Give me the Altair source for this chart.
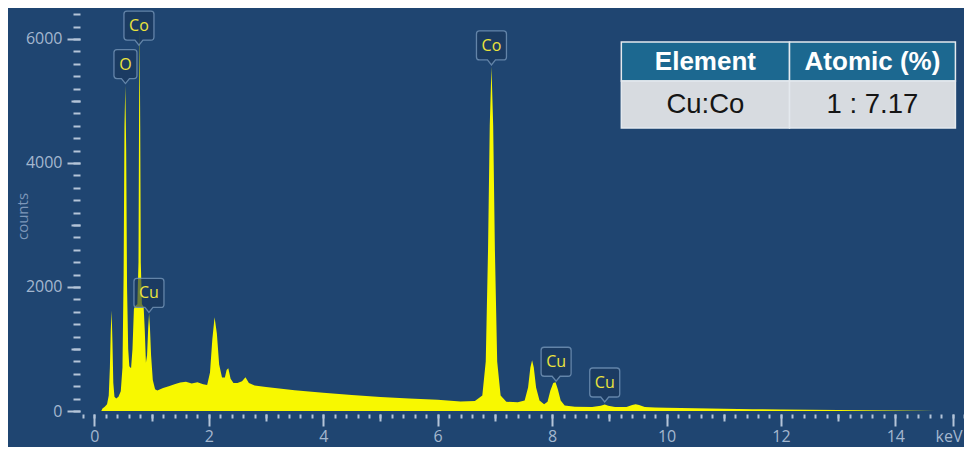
import altair as alt
import pandas as pd

# ---------------- data ----------------
energy_kev = [0.12, 0.14, 0.18, 0.22, 0.25, 0.27, 0.285, 0.30, 0.315, 0.33, 0.35, 0.38, 0.42, 0.46,
              0.49, 0.51, 0.525, 0.54, 0.555, 0.57, 0.59, 0.61, 0.64, 0.665, 0.69, 0.72, 0.75, 0.77,
              0.78, 0.79, 0.80, 0.81, 0.83, 0.86, 0.88, 0.90, 0.92, 0.94, 0.955, 0.97, 0.99, 1.02,
              1.06, 1.10, 1.2, 1.3, 1.4, 1.5, 1.6, 1.7, 1.8, 1.9, 1.97, 2.02, 2.06, 2.10, 2.14, 2.18,
              2.23, 2.28, 2.31, 2.34, 2.38, 2.43, 2.5, 2.58, 2.64, 2.7, 2.8, 3.0, 3.5, 4.0, 4.5, 5.0,
              5.5, 6.0, 6.4, 6.65, 6.78, 6.84, 6.88, 6.91, 6.94, 6.97, 7.0, 7.04, 7.1, 7.2, 7.4, 7.52,
              7.58, 7.62, 7.65, 7.68, 7.72, 7.78, 7.86, 7.92, 7.97, 8.02, 8.06, 8.10, 8.15, 8.22, 8.4,
              8.7, 8.85, 8.92, 8.98, 9.1, 9.3, 9.4, 9.46, 9.52, 9.62, 9.8, 10.0, 10.5, 11.0, 11.5,
              12.0, 12.5, 13.0, 13.5, 14.0, 14.4, 14.7]
counts = [0, 40, 70, 110, 250, 700, 1300, 1620, 1100, 450, 230, 200, 230, 320,
          700, 2200, 4600, 5250, 4200, 2000, 1000, 720, 690, 1000, 1650, 1700, 1720, 2400,
          4800, 6150, 4600, 2400, 1720, 1680, 1300, 780, 900, 1350, 1570, 1350, 900, 500,
          350, 330, 370, 400, 430, 460, 470, 445, 465, 430, 420, 620, 1150, 1510, 1250, 750,
          540, 540, 660, 690, 520, 450, 450, 480, 545, 450, 410, 385, 335, 295, 260, 225,
          200, 180, 155, 160, 250, 800, 2600, 4600, 5550, 4600, 2600, 800, 250, 150, 140, 170,
          380, 700, 820, 700, 380, 170, 110, 150, 330, 450, 465, 350, 170, 90, 70,
          65, 85, 105, 85, 65, 65, 95, 110, 95, 65, 55, 52, 45, 38, 30,
          25, 20, 16, 12, 8, 5, 0]
assert len(energy_kev) == len(counts)

peak_labels = ["O", "Co", "Cu", "Co", "Cu", "Cu"]
label_kev = [0.542, 0.778, 0.953, 6.94, 8.07, 8.92]
label_counts = [5280, 5900, 1590, 5580, 480, 145]

x_major_ticks = [0, 2, 4, 6, 8, 10, 12, 14]
x_unit_tick = [15]
x_mid_ticks = [1, 3, 5, 7, 9, 11, 13]
y_major_ticks = [0, 2000, 4000, 6000]
y_mid_ticks = [1000, 3000, 5000]

table_header = ["Element", "Atomic (%)"]
table_row = ["Cu:Co", "1 : 7.17"]

# ---------------- layout / style constants ----------------
X_DOMAIN = [-0.2, 15.2]
Y_DOMAIN = [0, 6450]
TABLE_X_EDGES = [9.21, 12.15, 15.05]      # in keV (table drawn through the scales)
TABLE_Y_EDGES = [5952, 5323, 4565]        # in counts

BG = "#1f4571"
TICK = "#b4c4d8"
LABEL = "#a4b7cf"
YELLOW = "#f8f800"
FONT = "Open Sans"

x_minor_ticks = [round(-0.2 + 0.2 * i, 1) for i in range(78)]
y_minor_ticks = list(range(0, 6401, 200))

spec_df = pd.DataFrame({"kev": energy_kev, "cnt": counts})
lab_df = pd.DataFrame({"kev": label_kev, "cnt": label_counts, "label": peak_labels})
dummy = pd.DataFrame({"kev": [0.0], "cnt": [0.0]})


def xs():
    return alt.Scale(domain=X_DOMAIN, nice=False, zero=False)


def ys():
    return alt.Scale(domain=Y_DOMAIN, nice=False, zero=False)


def tick_axis_x(values, size, labels=False, **extra):
    kw = dict(orient="bottom", values=values, tickSize=size, tickWidth=2, tickColor=TICK,
              domain=False, grid=False, offset=3, labels=labels, title=None)
    if labels:
        kw.update(labelColor=LABEL, labelFont=FONT, labelFontSize=16, labelPadding=2,
                  format="d", labelFlush=False, labelOverlap=False, labelBound=False)
    kw.update(extra)
    return alt.Axis(**kw)


def tick_axis_y(values, size, labels=False):
    kw = dict(orient="left", values=values, tickSize=size, tickWidth=2, tickColor=TICK,
              domain=False, grid=False, offset=3, labels=labels)
    if labels:
        kw.update(labelColor=LABEL, labelFont=FONT, labelFontSize=16, labelPadding=5,
                  format="d", labelFlush=False, title="counts", titleColor="#7d97b9",
                  titleFont=FONT, titleFontSize=15, titleFontWeight="normal",
                  titleX=-58, titleY=205, titleAlign="center", titleBaseline="middle")
    else:
        kw.update(title=None)
    return alt.Axis(**kw)


spectrum = alt.Chart(spec_df).mark_area(color=YELLOW, interpolate="linear").encode(
    x=alt.X("kev:Q", scale=xs(), axis=tick_axis_x(x_major_ticks, 12, labels=True)),
    y=alt.Y("cnt:Q", scale=ys(), axis=tick_axis_y(y_major_ticks, 13, labels=True)),
)

minor = alt.Chart(dummy).mark_point(opacity=0).encode(
    x=alt.X("kev:Q", scale=xs(), axis=tick_axis_x(x_minor_ticks, 4)),
    y=alt.Y("cnt:Q", scale=ys(), axis=tick_axis_y(y_minor_ticks, 7)),
)
mid = alt.Chart(dummy).mark_point(opacity=0).encode(
    x=alt.X("kev:Q", scale=xs(), axis=tick_axis_x(x_mid_ticks, 7)),
    y=alt.Y("cnt:Q", scale=ys(), axis=tick_axis_y(y_mid_ticks, 9)),
)
unit = alt.Chart(dummy).mark_point(opacity=0).encode(
    x=alt.X("kev:Q", scale=xs(),
            axis=tick_axis_x(x_unit_tick, 12, labels=True, labelOffset=-4,
                             labelExpr="'keV'")),
)


def callout(w, h=29, tip=5, r=3):
    hw = w / 2
    top = -(tip + h)
    bot = -tip
    return (f"M{-hw + r},{top} L{hw - r},{top} Q{hw},{top} {hw},{top + r} "
            f"L{hw},{bot - r} Q{hw},{bot} {hw - r},{bot} L4,{bot} L0,0 L-4,{bot} "
            f"L{-hw + r},{bot} Q{-hw},{bot} {-hw},{bot - r} L{-hw},{top + r} "
            f"Q{-hw},{top} {-hw + r},{top} Z")


def box_layer(df, w):
    return alt.Chart(df).mark_point(
        shape=callout(w), size=4, filled=True, fill="#1a3658", fillOpacity=0.62,
        stroke="#7090b4", strokeWidth=1.3, strokeOpacity=0.85, opacity=1,
    ).encode(
        x=alt.X("kev:Q", scale=xs(), axis=None),
        y=alt.Y("cnt:Q", scale=ys(), axis=None),
    )


boxes_narrow = box_layer(lab_df[lab_df["label"] == "O"], 23)
boxes_wide = box_layer(lab_df[lab_df["label"] != "O"], 30)
box_text = alt.Chart(lab_df).mark_text(
    dy=-19, color="#ece43c", font=FONT, fontSize=16, align="center", baseline="middle"
).encode(
    x=alt.X("kev:Q", scale=xs(), axis=None),
    y=alt.Y("cnt:Q", scale=ys(), axis=None),
    text="label:N",
)

# ---------------- table (top right) ----------------
hdr_df = pd.DataFrame({
    "x0": TABLE_X_EDGES[:-1], "x1": TABLE_X_EDGES[1:],
    "y0": [TABLE_Y_EDGES[0]] * 2, "y1": [TABLE_Y_EDGES[1]] * 2, "text": table_header,
})
row_df = pd.DataFrame({
    "x0": TABLE_X_EDGES[:-1], "x1": TABLE_X_EDGES[1:],
    "y0": [TABLE_Y_EDGES[1]] * 2, "y1": [TABLE_Y_EDGES[2]] * 2, "text": table_row,
})
for d in (hdr_df, row_df):
    d["xc"] = (d["x0"] + d["x1"]) / 2
    d["yc"] = (d["y0"] + d["y1"]) / 2


def cell_rects(df, fill):
    return alt.Chart(df).mark_rect(fill=fill, stroke="#e4e9ee", strokeWidth=1.5).encode(
        x=alt.X("x0:Q", scale=xs(), axis=None), x2="x1:Q",
        y=alt.Y("y0:Q", scale=ys(), axis=None), y2="y1:Q",
    )


def cell_text(df, color, size, weight):
    return alt.Chart(df).mark_text(
        color=color, font="Liberation Sans", fontSize=size, fontWeight=weight,
        align="center", baseline="middle", dy=1,
    ).encode(
        x=alt.X("xc:Q", scale=xs(), axis=None),
        y=alt.Y("yc:Q", scale=ys(), axis=None),
        text="text:N",
    )


table = alt.layer(
    cell_rects(hdr_df, "#1c6890"),
    cell_rects(row_df, "#d7dbe0"),
    cell_text(hdr_df, "#ffffff", 26, "bold"),
    cell_text(row_df, "#151515", 27.5, "normal"),
)

chart = alt.layer(
    spectrum, minor, mid, unit, boxes_narrow, boxes_wide, box_text, table
).resolve_axis(x="independent", y="independent").properties(
    width=881, height=400,
    autosize=alt.AutoSizeParams(type="none"),
    padding={"left": 75, "top": 3, "right": 0, "bottom": 36},
).configure(background=BG).configure_view(stroke=None)

chart.save("out.html", embed_options={"renderer": "svg", "actions": False})
